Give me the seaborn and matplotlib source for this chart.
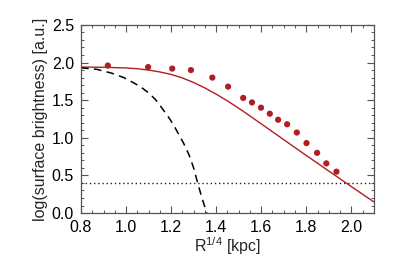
import matplotlib
matplotlib.use("Agg")
import matplotlib.pyplot as plt
import seaborn as sns
import pandas as pd
from matplotlib.ticker import MultipleLocator, FormatStrFormatter

# Observed data points
obs_x = [0.919, 1.098, 1.205, 1.288, 1.383, 1.453, 1.520, 1.559, 1.599, 1.638,
         1.675, 1.715, 1.758, 1.801, 1.848, 1.889, 1.934]
obs_y = [1.96, 1.94, 1.92, 1.90, 1.80, 1.68, 1.53, 1.47, 1.40, 1.32,
         1.24, 1.18, 1.07, 0.93, 0.80, 0.66, 0.55]

# Model (red solid)
model_x = [0.80, 0.90, 1.00, 1.05, 1.10, 1.15, 1.20, 1.25, 1.30, 1.35, 1.40,
           1.45, 1.50, 1.55, 1.60, 1.65, 1.70, 1.75, 1.80, 1.85, 1.90, 1.95,
           2.00, 2.05, 2.10]
model_y = [1.940, 1.937, 1.928, 1.918, 1.900, 1.875, 1.842, 1.795, 1.735, 1.662,
           1.580, 1.490, 1.393, 1.290, 1.185, 1.080, 0.975, 0.870, 0.765, 0.662,
           0.558, 0.455, 0.352, 0.250, 0.148]

# Seeing / PSF profile (black dashed)
psf_x = [0.80, 0.87, 0.935, 0.99, 1.04, 1.07, 1.099, 1.13, 1.158, 1.185, 1.211,
         1.233, 1.255, 1.28, 1.30, 1.316, 1.335, 1.354, 1.362]
psf_y = [1.93, 1.91, 1.86, 1.80, 1.72, 1.665, 1.60, 1.51, 1.40, 1.29, 1.17,
         1.05, 0.93, 0.77, 0.60, 0.42, 0.22, 0.04, -0.05]

# Threshold level
thresh = 0.40

sns.set_theme(style="ticks")
plt.rcParams['font.family'] = ['Liberation Sans', 'DejaVu Sans']
plt.rcParams['mathtext.fontset'] = 'custom'
plt.rcParams['mathtext.rm'] = 'Liberation Sans'
plt.rcParams['mathtext.it'] = 'Liberation Sans:italic'

fig = plt.figure(figsize=(3.99, 2.65), dpi=100)
ax = fig.add_axes([0.203, 0.196, 0.734, 0.710])

red = '#B01E23'
df_model = pd.DataFrame({'x': model_x, 'y': model_y})
df_psf = pd.DataFrame({'x': psf_x, 'y': psf_y})
df_obs = pd.DataFrame({'x': obs_x, 'y': obs_y})

sns.lineplot(data=df_model, x='x', y='y', ax=ax, color=red, lw=1.0, sort=False)
sns.lineplot(data=df_psf, x='x', y='y', ax=ax, color='black', lw=1.1, sort=False)
ax.lines[-1].set_dashes([5, 3.5])
ax.axhline(thresh, color='#222222', lw=1.0, ls=(0, (1, 2)))
sns.scatterplot(data=df_obs, x='x', y='y', ax=ax, color=red, s=20, edgecolor='none')

ax.set_xlim(0.8, 2.1)
ax.set_ylim(0.0, 2.5)
ax.xaxis.set_major_locator(MultipleLocator(0.2))
ax.xaxis.set_minor_locator(MultipleLocator(0.05))
ax.yaxis.set_major_locator(MultipleLocator(0.5))
ax.yaxis.set_minor_locator(MultipleLocator(0.1))
ax.xaxis.set_major_formatter(FormatStrFormatter('%.1f'))
ax.yaxis.set_major_formatter(FormatStrFormatter('%.1f'))

spine_col = '#555555'
for s in ax.spines.values():
    s.set_color(spine_col)
    s.set_linewidth(0.9)
    s.set_visible(True)
ax.tick_params(which='both', direction='in', top=True, right=True, color=spine_col,
               labelsize=11.5, labelcolor='black', pad=5)
ax.tick_params(which='major', length=5, width=0.8)
ax.tick_params(which='minor', length=2.5, width=0.7)

ax.set_xlabel(r'R$^{1/4}$ [kpc]', fontsize=11.5, labelpad=0)
ax.set_ylabel('log(surface brightness) [a.u.]', fontsize=11.5, labelpad=3)

fig.savefig('out.png', dpi=100)
